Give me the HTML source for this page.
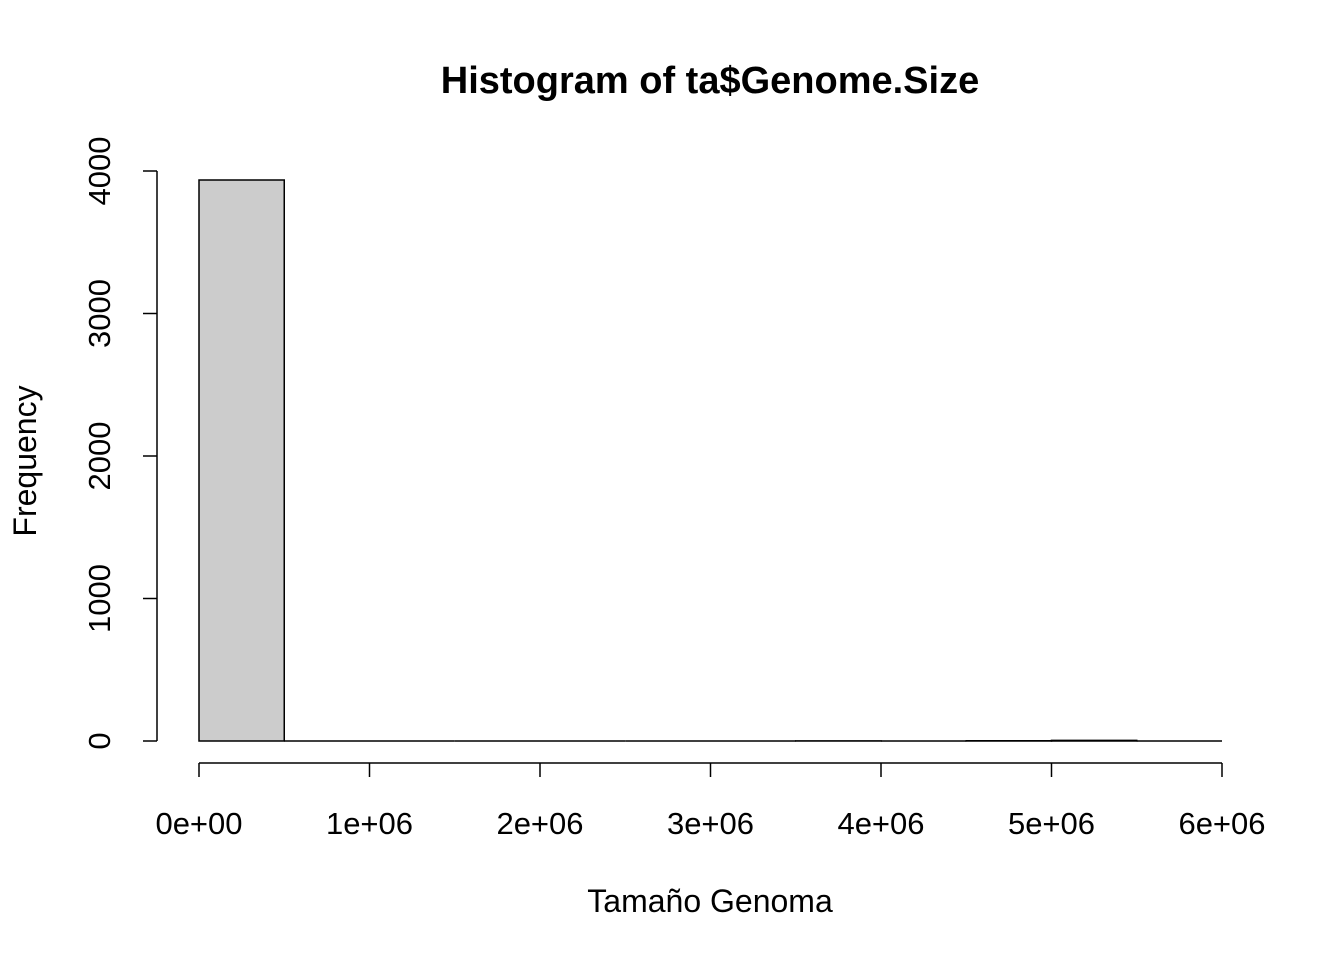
<!DOCTYPE html>
<html><head><meta charset="utf-8"><style>body{margin:0;background:#fff}svg{display:block}</style></head>
<body>
<svg id="chart" width="1344" height="960" xmlns="http://www.w3.org/2000/svg" font-family="Liberation Sans, Arial, sans-serif">
<text x="710" y="93" text-anchor="middle" font-size="38" font-weight="bold">Histogram of ta$Genome.Size</text>
<text x="710" y="912" text-anchor="middle" font-size="32">Tamaño Genoma</text>
<text transform="translate(36,461) rotate(-90)" text-anchor="middle" font-size="32">Frequency</text>
<g id="bars"></g><g id="xaxis"></g><g id="yaxis"></g>
</svg>
<script>
const binEdges = [0,5e5,1e6,1.5e6,2e6,2.5e6,3e6,3.5e6,4e6,4.5e6,5e6,5.5e6,6e6];
const counts = [3937,0,0,0,0,0,0,1,0,2,4,0];
const xTicks = [0,1e6,2e6,3e6,4e6,5e6,6e6];
const xTickLabels = ["0e+00","1e+06","2e+06","3e+06","4e+06","5e+06","6e+06"];
const yTicks = [0,1000,2000,3000,4000];
const yTickLabels = ["0","1000","2000","3000","4000"];
const NS="http://www.w3.org/2000/svg";
const xs=v=>199+v*(1222-199)/6e6, ys=v=>741-v*(741-171)/4000;
function mk(tag,attrs,parent){const e=document.createElementNS(NS,tag);for(const k in attrs)e.setAttribute(k,attrs[k]);parent.appendChild(e);return e;}
const bars=document.getElementById('bars');
for(let i=0;i<counts.length;i++){
 const x0=xs(binEdges[i]),x1=xs(binEdges[i+1]);
 const p=mk('path',{d:`M${x0},${ys(0)}V${ys(counts[i])}H${x1}V${ys(0)}Z`,fill:'#cccccc',stroke:'#000','stroke-width':1.5},bars);
 
 
}
const xa=document.getElementById('xaxis');
const xl=mk('line',{x1:xs(xTicks[0]),x2:xs(xTicks[xTicks.length-1]),y1:763,y2:763,stroke:'#000','stroke-width':1.5},xa);


xTicks.forEach((t,i)=>{
 mk('line',{x1:xs(t),x2:xs(t),y1:763,y2:777,stroke:'#000','stroke-width':1.5},xa);
 const tx=mk('text',{x:xs(t),y:834,'text-anchor':'middle','font-size':31},xa);tx.textContent=xTickLabels[i];
 
 
});
const ya=document.getElementById('yaxis');
const yl=mk('line',{x1:157,x2:157,y1:ys(yTicks[0]),y2:ys(yTicks[yTicks.length-1]),stroke:'#000','stroke-width':1.5},ya);


yTicks.forEach((t,i)=>{
 mk('line',{x1:143,x2:157,y1:ys(t),y2:ys(t),stroke:'#000','stroke-width':1.5},ya);
 const tx=mk('text',{transform:`translate(110,${ys(t)}) rotate(-90)`,'text-anchor':'middle','font-size':31},ya);tx.textContent=yTickLabels[i];
 
 
});
</script>
</body></html>
